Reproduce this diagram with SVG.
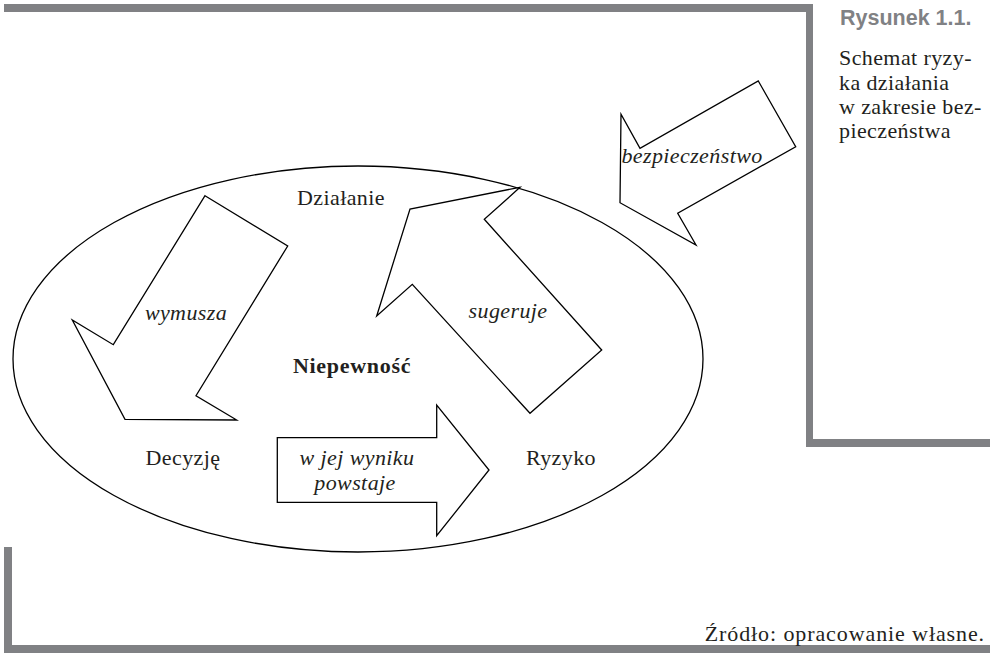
<svg xmlns="http://www.w3.org/2000/svg" width="990" height="653" viewBox="0 0 990 653">
<style>
.bar{fill:#808184}
.shape{fill:#fff;stroke:#000;stroke-width:1.3;stroke-linejoin:miter}
.t{font-family:"Liberation Serif","Times New Roman",serif;font-size:22px;letter-spacing:0.4px;fill:#231f20}
.i{font-style:italic}
.b{font-weight:bold}
.cap{font-family:"Liberation Sans",Arial,sans-serif;font-weight:bold;font-size:21.5px;fill:#808184}
</style>
<rect width="990" height="653" fill="#fff"/>
<g id="frame">
<rect class="bar" x="4" y="4" width="809" height="8"/>
<rect class="bar" x="806" y="4" width="7" height="443"/>
<rect class="bar" x="806" y="439" width="184" height="8"/>
<rect class="bar" x="4" y="547" width="8" height="106"/>
<rect class="bar" x="4" y="645" width="986" height="8"/>
</g>
<g id="caption">
<text class="cap" x="840" y="25">Rysunek 1.1.</text>
<text class="t" x="839" y="65">Schemat ryzy-</text>
<text class="t" x="839" y="90">ka działania</text>
<text class="t" x="839" y="114">w zakresie bez-</text>
<text class="t" x="839" y="138">pieczeństwa</text>
</g>
<g id="ellipse">
<ellipse class="shape" cx="358" cy="359" rx="345" ry="193"/>
</g>
<g id="connectors">
<g id="arrow-wymusza">
<polygon class="shape" points="205,195.7 287.7,246 196,395.7 236.7,420 125,419.3 72.3,320 113.3,344.7"/>
<text class="t i" x="186" y="320" text-anchor="middle">wymusza</text>
</g>
<g id="arrow-sugeruje">
<polygon class="shape" points="520,187.3 484.3,219.3 601.7,350 530,413.3 412.3,284.3 376.7,316 410,209"/>
<text class="t i" x="508" y="318" text-anchor="middle">sugeruje</text>
</g>
<g id="arrow-bezpieczenstwo">
<polygon class="shape" points="758.3,81 795.7,146.7 677.7,213.3 696,245 620,202.7 621,114.3 640,148.3"/>
<text class="t i" x="692" y="163" text-anchor="middle">bezpieczeństwo</text>
</g>
<g id="arrow-powstaje">
<polygon class="shape" points="277.3,437.7 436.7,437.7 436.7,405 489,470 436.7,535.7 436.7,502.3 277.3,502.3"/>
<text class="t i" x="357" y="465" text-anchor="middle">w jej wyniku</text>
<text class="t i" x="355" y="490" text-anchor="middle">powstaje</text>
</g>
</g>
<g id="node-dzialanie"><text class="t" x="341" y="205" text-anchor="middle">Działanie</text></g>
<g id="node-niepewnosc"><text class="t b" x="352" y="373" text-anchor="middle" style="letter-spacing:0.7px">Niepewność</text></g>
<g id="node-decyzje"><text class="t" x="183" y="465" text-anchor="middle">Decyzję</text></g>
<g id="node-ryzyko"><text class="t" x="561" y="465" text-anchor="middle">Ryzyko</text></g>
<g id="source"><text class="t" x="985" y="641" text-anchor="end" style="letter-spacing:0.9px">Źródło: opracowanie własne.</text></g>
</svg>
